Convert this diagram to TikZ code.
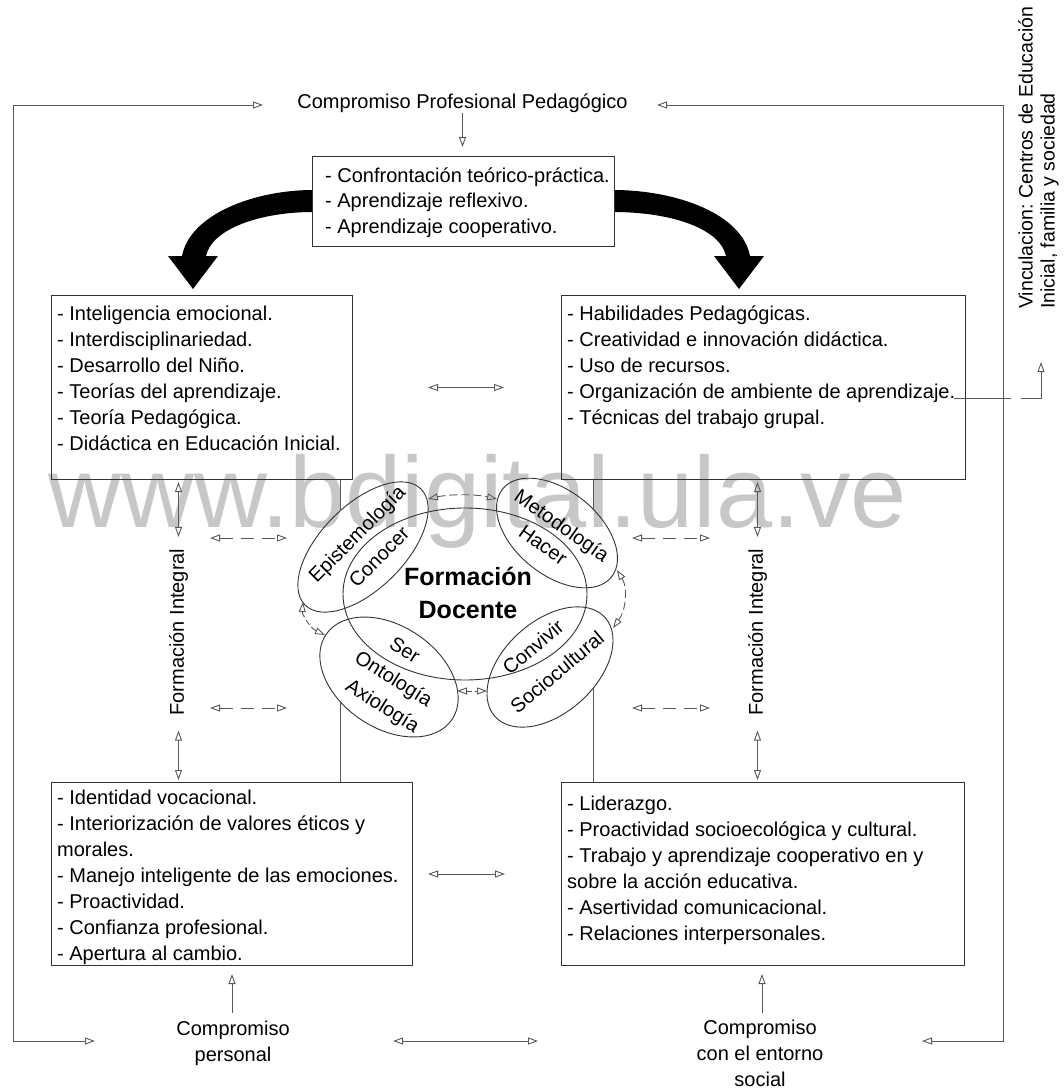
\documentclass[tikz,border=0pt]{standalone}
\usepackage{fontspec}
\setmainfont{Liberation Sans}
\usetikzlibrary{arrows.meta,shapes.geometric}
\frenchspacing

\newcommand\boxfont{\fontsize{20}{26}\selectfont}
\newcommand\topfont{\fontsize{20}{25.5}\selectfont}
\newcommand\ellfont{\fontsize{20}{27}\selectfont}
\newcommand\sidefont{\fontsize{19.5}{22}\selectfont}
\newcommand\titlefont{\fontsize{25}{25}\selectfont\bfseries}
\newcommand\markfont{\fontsize{101}{101}\selectfont}

\begin{document}
\begin{tikzpicture}[x=1pt,y=-1pt,
  panel/.style={draw=black!80, line width=1pt, inner sep=0pt, anchor=north west},
  items/.style={font=\boxfont, align=left, inner sep=0pt, anchor=north west},
  lbl/.style={font=\boxfont, inner sep=0pt},
  link/.style={draw=black!65, line width=0.9pt},
  dlink/.style={link, dash pattern=on 13pt off 8pt},
  ring/.style={draw=black!80, line width=0.9pt, ellipse, inner sep=0pt},
  etext/.style={font=\ellfont, inner sep=0pt},
  >={Triangle[open, length=10pt, width=7pt]}]

% canvas
\fill[white] (0,0) rectangle (1064,1091);
\useasboundingbox (0,0) rectangle (1064,1091);

% site mark behind everything
\node[font=\markfont, text=black!22, anchor=base west, inner sep=0pt] (wm) at (48,527) {www.bdigital.ula.ve};

% thick curved arrows leaving the top box
\fill[black] (313,190) .. controls (255,190) and (190,214) .. (182,256) -- (168,256) -- (193,289) -- (218,256) -- (206,256) .. controls (212,228) and (262,212) .. (313,212) -- cycle;
\fill[black] (613,190) .. controls (677,190) and (742,214) .. (750,256) -- (764,256) -- (739,289) -- (714,256) -- (726,256) .. controls (720,228) and (670,212) .. (613,212) -- cycle;

% boxes
\node[panel, fill=white, minimum width=302pt, minimum height=90pt] (topbox) at (312,156) {};
\node[items, font=\topfont] (toptext) at (325,167.5) {- Confrontación teórico-práctica.\\- Aprendizaje reflexivo.\\- Aprendizaje cooperativo.};

\node[panel, minimum width=301pt, minimum height=184pt] (knowbox) at (51,295) {};
\node[items] (knowtext) at (57,305.5) {- Inteligencia emocional.\\- Interdisciplinariedad.\\- Desarrollo del Niño.\\- Teorías del aprendizaje.\\- Teoría Pedagógica.\\- Didáctica en Educación Inicial.};

\node[panel, minimum width=404pt, minimum height=184pt] (dobox) at (561,295) {};
\node[items] (dotext) at (567,305.5) {- Habilidades Pedagógicas.\\- Creatividad e innovación didáctica.\\- Uso de recursos.\\- Organización de ambiente de aprendizaje.\\- Técnicas del trabajo grupal.};

\node[panel, minimum width=361pt, minimum height=183pt] (beingbox) at (51,782) {};
\node[items] (beingtext) at (57,789.5) {- Identidad vocacional.\\- Interiorización de valores éticos y\\morales.\\- Manejo inteligente de las emociones.\\- Proactividad.\\- Confianza profesional.\\- Apertura al cambio.};

\node[panel, minimum width=403pt, minimum height=183pt] (livebox) at (561,782) {};
\node[items] (livetext) at (567,795.5) {- Liderazgo.\\- Proactividad socioecológica y cultural.\\- Trabajo y aprendizaje cooperativo en y\\sobre la acción educativa.\\- Asertividad comunicacional.\\- Relaciones interpersonales.};

% free labels
\node[lbl, anchor=base] (cpp) at (462.5,109) {Compromiso Profesional Pedagógico};
\node[lbl, align=center, anchor=north] (cpers) at (233,1021) {Compromiso\\personal};
\node[lbl, align=center, anchor=north] (csoc) at (760,1020) {Compromiso\\con el entorno\\social};
\node[lbl, rotate=90] (fil) at (178.5,632) {Formación Integral};
\node[lbl, rotate=90] (fir) at (757.5,632) {Formación Integral};
\node[font=\sidefont, align=left, rotate=90, anchor=north west, inner sep=0pt] (vinc) at (1018,309) {Vinculacion: Centros de Educación\\Inicial, familia y sociedad};

% central cluster
\node[ring, minimum width=244pt, minimum height=172pt] (core) at (465,594) {};
\node[ring, minimum width=164pt, minimum height=84pt, rotate=45] (epi) at (363,547) {};
\node[ring, minimum width=140pt, minimum height=84pt, rotate=-39] (met) at (557,533) {};
\node[ring, minimum width=152pt, minimum height=102pt, rotate=-34] (ont) at (389,677) {};
\node[ring, minimum width=148pt, minimum height=92pt, rotate=42] (soc) at (550,667) {};

\node[font=\titlefont, anchor=base, inner sep=0pt] (fd1) at (468,585) {Formación};
\node[font=\titlefont, anchor=base, inner sep=0pt] (fd2) at (468,618) {Docente};

\node[etext, rotate=45] (tepi) at (358,535) {Epistemología};
\node[etext, rotate=45] (tcon) at (379,557) {Conocer};
\node[etext, rotate=-35] (tmet) at (561,527) {Metodología};
\node[etext, rotate=-35] (thac) at (543,545) {Hacer};
\node[etext, rotate=-32] (tser) at (405,650) {Ser};
\node[etext, rotate=-32] (tont) at (393,680) {Ontología};
\node[etext, rotate=-32] (taxi) at (382,707) {Axiología};
\node[etext, rotate=40] (tconv) at (533,647) {Convivir};
\node[etext, rotate=40] (tsoc) at (557,672) {Sociocultural};

% corner and end points of the outer loop
\coordinate (tl) at (13,105);
\coordinate (bl) at (13,1041);
\coordinate (tr) at (1003,105);
\coordinate (br) at (1003,1041);
\coordinate (cppL) at (263,105);
\coordinate (cppR) at (657,105);
\coordinate (cpersL) at (95,1041);
\coordinate (csocR) at (922,1041);
\coordinate (cpersR) at (393,1041);
\coordinate (csocL) at (538,1041);
\coordinate (cpersTop) at (232,1013);
\coordinate (csocTop) at (762,1013);

% outer loop
\draw[link,<->] (cppL) -- (tl) -- (bl) -- (cpersL);
\draw[link,<->] (cppR) -- (tr) -- (br) -- (csocR);
\draw[link,->, shorten >=9pt] (cpp.south) -- (cpp.south |- topbox.north);

% links between the boxes
\draw[link,<->, shorten <=75pt, shorten >=57pt] (knowbox.east) -- (knowbox.east -| dobox.west);
\draw[link,<->, shorten <=15pt, shorten >=56pt] (beingbox.east) -- (beingbox.east -| livebox.west);
\draw[link,<->] (cpersR) -- (csocL);
\draw[link,->, shorten >=8pt] (cpersTop) -- (cpersTop |- beingbox.south);
\draw[link,->, shorten >=8pt] (csocTop) -- (csocTop |- livebox.south);

% Formacion Integral arrows
\draw[link,<->, shorten <=2pt, shorten >=11.5pt] (fil.east |- knowbox.south) -- (fil.east);
\draw[link,<->, shorten <=15pt, shorten >=2pt] (fil.west) -- (fil.west |- beingbox.north);
\draw[link,<->, shorten <=2pt, shorten >=11.5pt] (fir.east |- dobox.south) -- (fir.east);
\draw[link,<->, shorten <=15pt, shorten >=2pt] (fir.west) -- (fir.west |- livebox.north);

% dashed side links
\coordinate (dA1) at (210,538); \coordinate (dA2) at (287,538);
\coordinate (dB1) at (210,708); \coordinate (dB2) at (287,708);
\coordinate (dC1) at (632,538); \coordinate (dC2) at (710,538);
\coordinate (dD1) at (632,708); \coordinate (dD2) at (710,708);
\draw[dlink,<->] (dA1) -- (dA2);
\draw[dlink,<->] (dB1) -- (dB2);
\draw[dlink,<->] (dC1) -- (dC2);
\draw[dlink,<->] (dD1) -- (dD2);

% dashed links around the ring
\coordinate (eTop1) at (428,499); \coordinate (eTop2) at (497,499);
\coordinate (eRt1) at (617,570);  \coordinate (eRt2) at (613,628);
\coordinate (eBt1) at (457,691);  \coordinate (eBt2) at (487,691);
\coordinate (eLf1) at (303,602);  \coordinate (eLf2) at (325,635);
\draw[link, dash pattern=on 8pt off 4pt,<->] (eTop1) .. controls (450,494) and (475,494) .. (eTop2);
\draw[link, dash pattern=on 8pt off 4pt,<->] (eRt1) .. controls (628,588) and (626,610) .. (eRt2);
\draw[link, dash pattern=on 5pt off 3pt,<->] (eBt1) -- (eBt2);
\draw[link, dash pattern=on 6pt off 3pt,<->] (eLf1) .. controls (302,614) and (310,628) .. (eLf2);

% plain ties between the ring and the boxes
\coordinate (epiFoot) at (340,511);
\coordinate (ontFoot) at (340,701);
\coordinate (metFoot) at (593,509);
\coordinate (socFoot) at (593,688);
\draw[link] (knowbox.south -| epiFoot) -- (epiFoot);
\draw[link] (ontFoot) -- (ontFoot |- beingbox.north);
\draw[link] (dobox.south -| metFoot) -- (metFoot);
\draw[link] (socFoot) -- (socFoot |- livebox.north);

% tie to the community label, hopping over the loop line
\coordinate (vA) at (954,398);
\coordinate (vB) at (1011,398);
\coordinate (vC) at (1021,398);
\coordinate (vD) at (1041,398);
\coordinate (vE) at (1041,362);
\draw[link] (vA) -- (vB);
\draw[link,->] (vC) -- (vD) -- (vE);

\end{tikzpicture}
\end{document}
